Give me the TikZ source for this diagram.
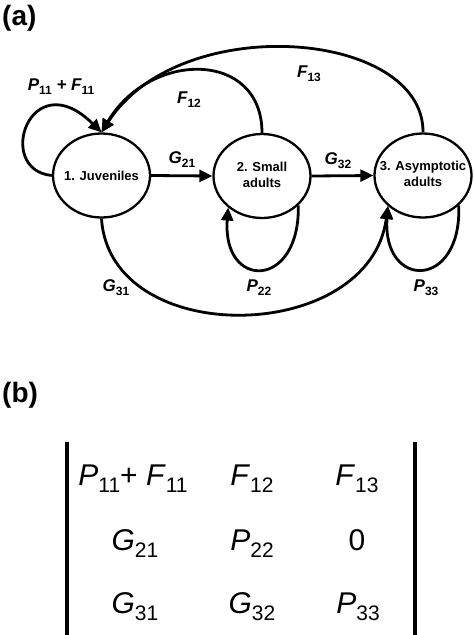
\documentclass[tikz,border=0pt]{standalone}
\usepackage{fontspec}
\setmainfont{Liberation Sans}
\usetikzlibrary{arrows.meta,shapes.geometric}
\newcommand{\lsub}[1]{\raisebox{-4pt}{\fontsize{12}{12}\selectfont\bfseries\upshape #1}}
\newcommand{\msub}[1]{\raisebox{-7.5pt}{\fontsize{21}{21}\selectfont\upshape #1}}
\begin{document}
\begin{tikzpicture}[x=1pt,y=-1pt,
  state/.style={draw, ellipse, line width=2.3pt, minimum width=97pt, minimum height=84pt, inner sep=0pt, font=\fontsize{13}{16}\selectfont\bfseries},
  edge/.style={line width=2.8pt, -{Triangle[length=13pt,width=12pt]}},
  lab/.style={anchor=base, inner sep=0pt, font=\fontsize{17}{17}\selectfont\bfseries\itshape},
  ment/.style={anchor=base, inner sep=0pt, font=\fontsize{30}{30}\selectfont},
  panel/.style={anchor=base west, inner sep=0pt, font=\fontsize{28}{28}\selectfont\bfseries},
  bar/.style={line width=4pt}]
\useasboundingbox (0,0) rectangle (474,635);

% panel labels
\node[panel] (pa) at (2,25) {(a)};
\node[panel] (pb) at (2,402) {(b)};

% states
\node[state] (e1) at (101.5,175.5) {\makebox[0pt]{1. Juveniles}};
\node[state] (e2) at (262,176) {\makebox[0pt]{\begin{tabular}{@{}c@{}}2. Small\\adults\end{tabular}}};
\node[state] (e3) at (423,175.5) {\makebox[0pt]{\begin{tabular}{@{}c@{}}3. Asymptotic\\adults\end{tabular}}};

% connectors
\draw[edge] (e1.east) -- (e2.west);
\draw[edge] (e2.east) -- (e3.west);
\draw[edge] (e2.north) .. controls (262,50) and (150,50) .. (e1.north);
\draw[edge] (e3.north) .. controls (424,30) and (180,10) .. (e1.north);
\draw[edge] (e1.west) .. controls (-6,170) and (30,62) .. (e1.north);
\draw[edge] (e1.south) .. controls (110,350) and (370,345) .. (e3.221);
\draw[edge] (e2.321) .. controls (300,290) and (222,290) .. (e2.223);
\draw[edge] (e3.320) .. controls (462,290) and (382,290) .. (e3.221);

% labels
\node[lab] (l11) at (61,90) {P\lsub{11} + F\lsub{11}};
\node[lab] (l12) at (189,103) {F\lsub{12}};
\node[lab] (l13) at (309,77) {F\lsub{13}};
\node[lab] (l21) at (182,163) {G\lsub{21}};
\node[lab] (l32) at (338,164) {G\lsub{32}};
\node[lab] (l31) at (116,291) {G\lsub{31}};
\node[lab] (l22) at (259,291) {P\lsub{22}};
\node[lab] (l33) at (426,291) {P\lsub{33}};

% matrix
\draw[bar] (67,442) -- (67,635);
\draw[bar] (415,442) -- (415,635);
\node[ment] (m11) at (133,485) {\textit{P}\msub{11}+ \textit{F}\msub{11}};
\node[ment] (m12) at (252,485) {\textit{F}\msub{12}};
\node[ment] (m13) at (357,485) {\textit{F}\msub{13}};
\node[ment] (m21) at (135,550) {\textit{G}\msub{21}};
\node[ment] (m22) at (252,550) {\textit{P}\msub{22}};
\node[ment] (m23) at (357,550) {0};
\node[ment] (m31) at (135,613) {\textit{G}\msub{31}};
\node[ment] (m32) at (252,613) {\textit{G}\msub{32}};
\node[ment] (m33) at (358,613) {\textit{P}\msub{33}};
\end{tikzpicture}
\end{document}
